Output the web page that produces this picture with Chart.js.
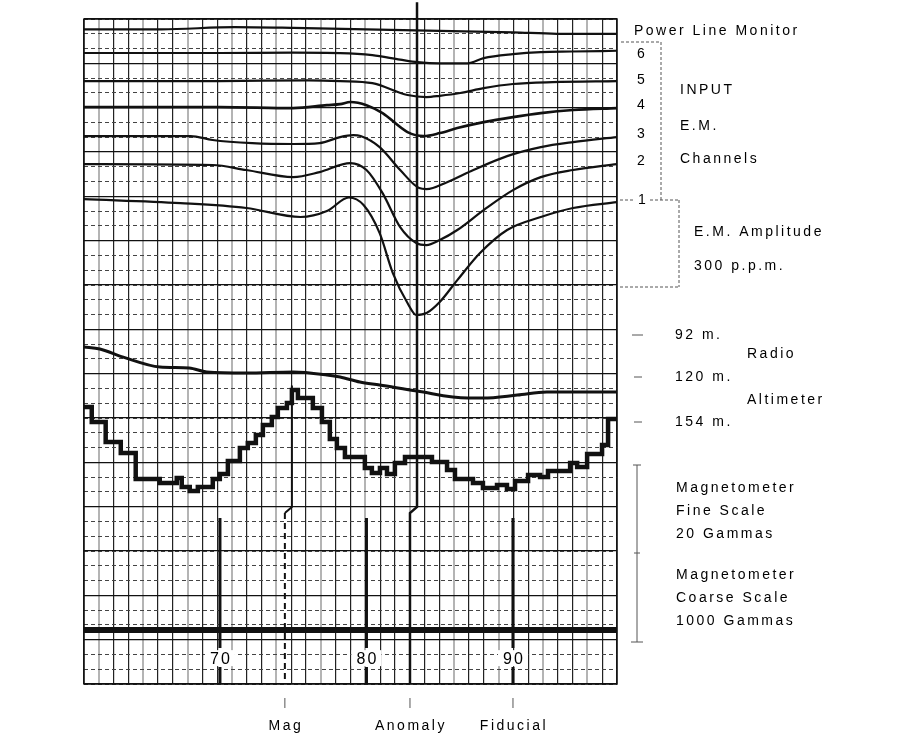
<!DOCTYPE html>
<html>
<head>
<meta charset="utf-8">
<script src="https://cdn.jsdelivr.net/npm/chart.js@4.4.1/dist/chart.umd.min.js"></script>
<style>
html, body { margin: 0; padding: 0; background: #fff; }
</style>
</head>
<body>
<canvas id="grafica" width="904" height="733"></canvas>
<script>
// rango del registro (numeros fiduciales) y divisiones del papel
var xMin = 60.72, xMax = 97.1;
var yMin = 0, yMax = 45;
var columnas = 36, filas = 45;

// Power Line Monitor
var plmX = [60.7, 66, 71, 75, 80, 85, 90, 93, 97.1];
var plmY = [44.3, 44.3, 44.45, 44.4, 44.3, 44.2, 44.1, 44.0, 44.0];

// canales E.M. 6 .. 1
var ch6X = [60.7, 70, 75, 78.2, 80.4, 82.3, 83.5, 85, 86.9, 88, 90, 91.9, 94, 97.1];
var ch6Y = [42.7, 42.7, 42.72, 42.69, 42.55, 42.25, 42.08, 42.0, 42.0, 42.35, 42.62, 42.76, 42.8, 42.85];

var ch5X = [60.7, 70, 76, 78.2, 80.4, 82.8, 84.1, 85, 86.4, 88, 90, 92.7, 97.1];
var ch5Y = [40.8, 40.8, 40.85, 40.8, 40.66, 39.86, 39.72, 39.8, 39.99, 40.32, 40.6, 40.73, 40.8];

var ch4X = [60.7, 70, 75, 77.3, 78.2, 78.9, 80.0, 81.1, 82.8, 83.9, 85.0, 86.2, 88, 90, 91.9, 94.1, 97.1];
var ch4Y = [39.04, 39.04, 38.97, 39.17, 39.24, 39.38, 39.17, 38.63, 37.35, 37.08, 37.28, 37.62, 38.02, 38.36, 38.63, 38.84, 38.97];

var ch3X = [60.7, 68, 69.5, 72.2, 75, 76.8, 78.2, 79.1, 79.6, 80.9, 82.3, 83.6, 84.1, 85.5, 87.3, 89.6, 91.9, 94.1, 97.1];
var ch3Y = [37.08, 37.08, 36.81, 36.6, 36.54, 36.6, 37.01, 37.14, 37.08, 36.33, 34.78, 33.56, 33.49, 33.96, 34.78, 35.72, 36.33, 36.67, 37.01];

var ch2X = [60.7, 69.5, 71.8, 75, 76.8, 78.9, 80.0, 81.1, 82.3, 83.4, 84.1, 85.0, 86.2, 88, 90, 91.9, 94.1, 97.1];
var ch2Y = [35.18, 35.12, 34.78, 34.3, 34.64, 35.25, 34.78, 33.22, 30.92, 29.84, 29.7, 30.04, 30.72, 32.07, 33.42, 34.3, 34.78, 35.18];

var ch1X = [60.7, 67.3, 71.8, 75.5, 77.3, 78.8, 79.8, 80.9, 81.8, 82.8, 83.4, 84.1, 85.0, 86.2, 87.75, 89.6, 91.9, 94.1, 97.1];
var ch1Y = [32.81, 32.54, 32.21, 31.6, 32.0, 32.92, 32.41, 30.51, 27.81, 25.78, 24.97, 25.1, 25.85, 27.33, 29.16, 30.72, 31.6, 32.21, 32.61];

// altimetro radar
var altX = [60.7, 61.8, 63.4, 65.9, 67.9, 69.1, 71.8, 75, 77.3, 78.2, 79.55, 80.9, 83.45, 86.9, 87.95, 90.3, 92.3, 97.1];
var altY = [22.8, 22.67, 22.12, 21.45, 21.38, 21.11, 21.04, 21.11, 20.91, 20.77, 20.43, 20.23, 19.82, 19.35, 19.35, 19.55, 19.76, 19.76];

// magnetometro escala fina (escalones)
var magX = [60.7, 61.25, 62.2, 63.23, 64.25, 65.89, 67.05, 67.39, 67.94, 68.49, 69.51, 69.99, 70.54, 71.36, 71.9, 72.45, 72.93, 73.54, 73.95, 74.57,
            74.91, 75.32, 76.34, 76.96, 77.5, 77.98, 78.53, 79.89, 80.37, 80.92, 81.4, 81.94, 82.63, 84.47, 85.5, 86.04, 87.27, 87.95, 88.91, 89.59,
            90.14, 91.03, 91.85, 92.39, 93.9, 94.38, 95.06, 96.08, 96.49, 97.11];
var magY = [18.74, 17.73, 16.37, 15.63, 13.87, 13.6, 13.94, 13.33, 13.06, 13.33, 13.87, 14.21, 15.09, 15.97, 16.31, 16.85, 17.52, 18.06, 18.67, 19.01,
            19.89, 19.35, 18.67, 17.73, 16.58, 15.97, 15.36, 14.61, 14.28, 14.61, 14.21, 14.95, 15.36, 15.02, 14.48, 13.87, 13.6, 13.26, 13.46, 13.19,
            13.73, 14.14, 14.01, 14.41, 14.95, 14.68, 15.56, 16.17, 17.93, 17.93];

// magnetometro escala gruesa
var coarseX = [60.7, 97.1];
var coarseY = [3.65, 3.65];

// marcas fiduciales
var fiduciales = [70, 80, 90];
var fidArriba = 11.23, fidAbajo = 2.44, fidCorto = 1.15;
var magFidX = [74.91, 74.43];
var anomFidX = [83.45, 82.97];

function pares(xs, ys) {
    return xs.map(function (x, i) { return { x: x, y: ys[i] }; });
}

function traza(xs, ys, ancho) {
    return {
        data: pares(xs, ys),
        showLine: true,
        borderColor: '#111',
        borderWidth: ancho,
        pointRadius: 0,
        cubicInterpolationMode: 'monotone'
    };
}

var datasets = [
    traza(plmX, plmY, 2.2),
    traza(ch6X, ch6Y, 2.2),
    traza(ch5X, ch5Y, 2.2),
    traza(ch4X, ch4Y, 2.6),
    traza(ch3X, ch3Y, 2.2),
    traza(ch2X, ch2Y, 2.2),
    traza(ch1X, ch1Y, 2.2),
    traza(altX, altY, 3),
    { data: pares(magX, magY), showLine: true, stepped: true, borderColor: '#111', borderWidth: 4.5, pointRadius: 0 },
    traza(coarseX, coarseY, 6)
];

fiduciales.forEach(function (f) {
    datasets.push({
        data: [{ x: f, y: fidArriba }, { x: f, y: fidAbajo }, { x: f, y: null }, { x: f, y: fidCorto }, { x: f, y: 0 }],
        showLine: true, spanGaps: false, borderColor: '#111', borderWidth: 3, pointRadius: 0
    });
});

// Mag: tramo continuo y tramo discontinuo
datasets.push({
    data: [{ x: magFidX[0], y: 20.2 }, { x: magFidX[0], y: 11.98 }, { x: magFidX[1], y: 11.57 }],
    showLine: true, borderColor: '#111', borderWidth: 2, pointRadius: 0
});
datasets.push({
    data: [{ x: magFidX[1], y: 11.57 }, { x: magFidX[1], y: 0 }],
    showLine: true, borderColor: '#111', borderWidth: 2, borderDash: [6, 4], pointRadius: 0
});
// Anomaly: sale por encima del papel
datasets.push({
    data: [{ x: anomFidX[0], y: 46.14 }, { x: anomFidX[0], y: 11.98 }, { x: anomFidX[1], y: 11.57 }, { x: anomFidX[1], y: 0 }],
    showLine: true, borderColor: '#111', borderWidth: 2.5, pointRadius: 0, clip: false
});

var textos = [
    ['Power Line Monitor', 634, 31],
    ['6', 637, 54], ['5', 637, 80], ['4', 637, 105], ['3', 637, 134], ['2', 637, 161], ['1', 638, 200],
    ['INPUT', 680, 90], ['E.M.', 680, 126], ['Channels', 680, 159],
    ['E.M. Amplitude', 694, 232], ['300 p.p.m.', 694, 266],
    ['92 m.', 675, 335], ['Radio', 747, 354], ['120 m.', 675, 377], ['Altimeter', 747, 400], ['154 m.', 675, 422],
    ['Magnetometer', 676, 488], ['Fine Scale', 676, 511], ['20 Gammas', 676, 534],
    ['Magnetometer', 676, 575], ['Coarse Scale', 676, 598], ['1000 Gammas', 676, 621]
];
var etiquetasAbajo = [['Mag', magFidX[1]], ['Anomaly', anomFidX[1]], ['Fiducial', 90]];

function linea(c, x1, y1, x2, y2) {
    c.beginPath(); c.moveTo(x1, y1); c.lineTo(x2, y2); c.stroke();
}

var notas = {
    id: 'notas',
    afterDraw: function (chart) {
        var c = chart.ctx, a = chart.chartArea;
        var sx = chart.scales.x, sy = chart.scales.y;
        c.save();
        // marco del papel
        c.strokeStyle = '#111'; c.lineWidth = 1.5;
        c.strokeRect(a.left, a.top, a.right - a.left, a.bottom - a.top);

        // numeros fiduciales dentro del papel
        c.font = '16px "Liberation Sans", Arial, sans-serif';
        c.letterSpacing = '2px';
        c.textAlign = 'center'; c.textBaseline = 'middle';
        var yNum = sy.getPixelForValue(1.75);
        fiduciales.forEach(function (f) {
            var px = sx.getPixelForValue(f);
            c.fillStyle = '#fff'; c.fillRect(px - 15, yNum - 8, 30, 16);
            c.fillStyle = '#000'; c.fillText(String(f), px + 1, yNum + 1);
        });

        // textos de la derecha
        c.font = '14px "Liberation Sans", Arial, sans-serif';
        c.letterSpacing = '2.5px';
        c.textAlign = 'left';
        textos.forEach(function (t) { c.fillText(t[0], t[1], t[2]); });

        // llaves y marcas de la derecha
        c.strokeStyle = '#555'; c.lineWidth = 1;
        c.setLineDash([3, 2]);
        linea(c, 621, 42, 661, 42);
        linea(c, 661, 42, 661, 200);
        linea(c, 620, 200, 633, 200);
        linea(c, 650, 200, 679, 200);
        linea(c, 679, 200, 679, 287);
        linea(c, 620, 287, 679, 287);
        c.setLineDash([]);
        linea(c, 632, 335, 643, 335);
        linea(c, 634, 377, 642, 377);
        linea(c, 634, 422, 642, 422);
        linea(c, 637, 465, 637, 642);
        linea(c, 633, 465, 641, 465);
        linea(c, 634, 553, 640, 553);
        linea(c, 631, 642, 643, 642);

        // etiquetas de abajo
        c.font = '14px "Liberation Sans", Arial, sans-serif';
        c.letterSpacing = '2.5px';
        c.textAlign = 'center';
        etiquetasAbajo.forEach(function (e) {
            var px = sx.getPixelForValue(e[1]);
            linea(c, px, a.bottom + 14, px, a.bottom + 24);
            c.fillText(e[0], px + 1, a.bottom + 42);
        });
        c.restore();
    }
};

function ticksX(scale) {
    var t = [];
    for (var k = 0; k <= columnas; k++) t.push({ value: xMin + k * (xMax - xMin) / columnas });
    scale.ticks = t;
}
function ticksY(paso) {
    return function (scale) {
        var t = [];
        for (var k = 0; k <= filas; k += paso) t.push({ value: yMin + k * (yMax - yMin) / filas });
        scale.ticks = t;
    };
}

var ctx = document.getElementById('grafica').getContext('2d');
var myChart = new Chart(ctx, {
    type: 'scatter',
    data: { datasets: datasets },
    options: {
        responsive: false,
        animation: false,
        events: [],
        layout: { padding: { left: 84, top: 19, right: 287, bottom: 49 } },
        plugins: { legend: { display: false }, tooltip: { enabled: false } },
        scales: {
            x: {
                type: 'linear', min: xMin, max: xMax,
                afterBuildTicks: ticksX,
                ticks: { display: false },
                border: { display: false },
                grid: {
                    drawTicks: false,
                    color: function (c) { return c.index % 3 === 1 ? '#b4b4b4' : '#222'; },
                    lineWidth: function (c) { return c.index % 3 === 1 ? 2 : 1.2; }
                }
            },
            y: {
                type: 'linear', min: yMin, max: yMax,
                afterBuildTicks: ticksY(1),
                ticks: { display: false },
                border: { display: false, dash: [4, 3] },
                grid: { drawTicks: false, color: '#444', lineWidth: 1 }
            },
            y2: {
                type: 'linear', position: 'left', min: yMin, max: yMax,
                afterBuildTicks: ticksY(3),
                ticks: { display: false },
                border: { display: false },
                grid: { drawTicks: false, color: '#111', lineWidth: 1.2 }
            }
        }
    },
    plugins: [notas]
});
</script>
</body>
</html>
